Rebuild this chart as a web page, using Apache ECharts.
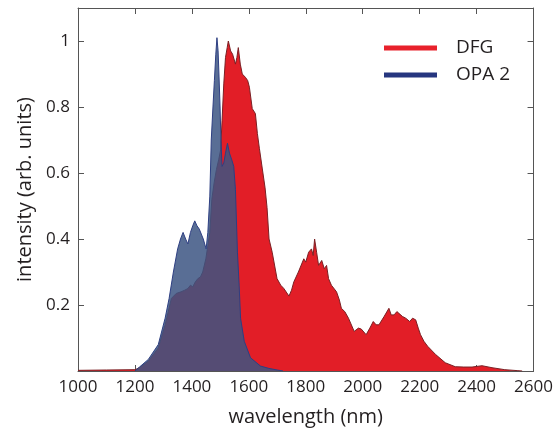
<!DOCTYPE html>
<html>
<head>
<meta charset="utf-8">
<script src="https://cdn.jsdelivr.net/npm/echarts@6/dist/echarts.min.js"></script>
<style>
  html, body { margin: 0; padding: 0; background: #fff; }
  #chart { width: 556px; height: 435px; }
</style>
</head>
<body>
<div id="chart"></div>
<script>
// DFG spectrum (nm / arb. units)
const dfgWl = [1000, 1100, 1200, 1216, 1247, 1282, 1306, 1328, 1345, 1362, 1375, 1386, 1395, 1403, 1412, 1421, 1430, 1438, 1449, 1456,
  1463, 1470, 1478, 1486, 1494, 1501, 1506, 1512, 1518, 1524, 1528, 1536, 1543, 1553, 1558, 1563, 1570, 1577, 1588, 1596,
  1602, 1612, 1623, 1630, 1637, 1647, 1657, 1664, 1671, 1682, 1699, 1712, 1723, 1741, 1750, 1758, 1774, 1793, 1800, 1810,
  1820, 1826, 1831, 1838, 1845, 1856, 1865, 1873, 1880, 1890, 1908, 1918, 1925, 1937, 1950, 1970, 1985, 1995, 2012, 2025,
  2037, 2047, 2057, 2075, 2092, 2100, 2110, 2120, 2127, 2140, 2151, 2165, 2175, 2186, 2195, 2203, 2215, 2228, 2256, 2290,
  2325, 2355, 2384, 2419, 2454, 2499, 2545, 2560]
const dfgVal = [0.002, 0.003, 0.004, 0.01, 0.03, 0.07, 0.14, 0.22, 0.235, 0.24, 0.245, 0.25, 0.26, 0.255, 0.27, 0.28, 0.285, 0.30, 0.34, 0.38,
  0.42, 0.52, 0.57, 0.61, 0.64, 0.67, 0.76, 0.87, 0.95, 0.98, 1.0, 0.97, 0.96, 0.93, 0.95, 0.98, 0.93, 0.9, 0.89, 0.88,
  0.86, 0.795, 0.78, 0.72, 0.675, 0.615, 0.555, 0.495, 0.40, 0.36, 0.28, 0.26, 0.25, 0.227, 0.245, 0.27, 0.30, 0.34, 0.33, 0.36,
  0.37, 0.35, 0.40, 0.36, 0.32, 0.335, 0.31, 0.32, 0.28, 0.26, 0.24, 0.215, 0.19, 0.18, 0.16, 0.12, 0.13, 0.127, 0.11, 0.13,
  0.15, 0.14, 0.14, 0.165, 0.19, 0.17, 0.17, 0.18, 0.18, 0.165, 0.16, 0.15, 0.16, 0.155, 0.13, 0.11, 0.09, 0.075, 0.05, 0.025,
  0.013, 0.012, 0.012, 0.016, 0.01, 0.004, 0.001, 0]

// OPA 2 spectrum
const opaWl = [1200, 1216, 1247, 1282, 1306, 1320, 1335, 1350, 1360, 1369, 1378, 1386, 1395, 1403, 1410, 1418, 1426, 1433, 1440, 1445,
  1450, 1456, 1463, 1468, 1474, 1479, 1484, 1488, 1492, 1495, 1499, 1502, 1506, 1512, 1518, 1525, 1532, 1540, 1547, 1553,
  1560, 1566, 1571, 1584, 1606, 1641, 1670, 1700, 1720]
const opaVal = [0, 0.012, 0.035, 0.08, 0.16, 0.22, 0.30, 0.37, 0.40, 0.42, 0.40, 0.385, 0.42, 0.44, 0.455, 0.44, 0.43, 0.415, 0.40, 0.385,
  0.37, 0.42, 0.53, 0.70, 0.80, 0.88, 0.96, 1.01, 0.97, 0.90, 0.80, 0.70, 0.62, 0.63, 0.66, 0.69, 0.66, 0.64, 0.62, 0.55,
  0.36, 0.26, 0.16, 0.09, 0.04, 0.015, 0.008, 0.003, 0]

const xTicks = { min: 1000, max: 2600, step: 200 }
const yTicks = { min: 0, max: 1.1, step: 0.2 }

const font = '"Open Sans", "Noto Sans", sans-serif'
const txt = '#231f20'
const frame = '#555'

function pairs(xs, ys) {
  return xs.map((x, i) => [x, ys[i]])
}

const axisBase = {
  axisLine: { show: true, onZero: false, lineStyle: { color: frame, width: 1 } },
  axisTick: { show: true, inside: true, length: 6, lineStyle: { color: frame } },
  splitLine: { show: false },
}

const chart = echarts.init(document.getElementById('chart'), null, { renderer: 'canvas' })
chart.setOption({
  animation: false,
  backgroundColor: '#fff',
  grid: { left: 78, right: 17, top: 8, bottom: 64, containLabel: false },
  legend: {
    orient: 'vertical',
    left: 384,
    top: 37,
    padding: 0,
    icon: 'rect',
    itemWidth: 53,
    itemHeight: 5,
    itemGap: 5,
    textStyle: { fontFamily: font, fontSize: 19, color: txt, lineHeight: 22, padding: [0, 0, 0, 14] },
    data: [
      { name: 'DFG', itemStyle: { color: '#e8212b' } },
      { name: 'OPA 2', itemStyle: { color: '#26367f' } }
    ]
  },
  xAxis: [
    Object.assign({}, axisBase, {
      type: 'value', position: 'bottom',
      min: xTicks.min, max: xTicks.max, interval: xTicks.step,
      name: 'wavelength (nm)', nameLocation: 'middle', nameGap: 36,
      nameTextStyle: { fontFamily: font, fontSize: 20, color: txt },
      axisLabel: { fontFamily: font, fontSize: 17, color: txt, margin: 8, formatter: v => String(v) }
    }),
    Object.assign({}, axisBase, {
      type: 'value', position: 'top',
      min: xTicks.min, max: xTicks.max, interval: xTicks.step,
      axisLabel: { show: false }
    })
  ],
  yAxis: [
    Object.assign({}, axisBase, {
      type: 'value', position: 'left',
      min: yTicks.min, max: yTicks.max, interval: yTicks.step,
      name: 'intensity (arb. units)', nameLocation: 'middle', nameGap: 40, nameRotate: 90,
      nameTextStyle: { fontFamily: font, fontSize: 20, color: txt },
      axisLabel: {
        fontFamily: font, fontSize: 17, color: txt, margin: 8,
        formatter: v => (v === 0 || v > 1.05) ? '' : String(+v.toFixed(1))
      }
    }),
    Object.assign({}, axisBase, {
      type: 'value', position: 'right',
      min: yTicks.min, max: yTicks.max, interval: yTicks.step,
      axisLabel: { show: false }
    })
  ],
  series: [
    {
      name: 'DFG',
      type: 'line',
      data: pairs(dfgWl, dfgVal),
      showSymbol: false,
      symbol: 'none',
      lineStyle: { color: '#7a2024', width: 1 },
      itemStyle: { color: '#e8212b' },
      areaStyle: { color: '#e21e27', opacity: 1 },
      z: 2
    },
    {
      name: 'OPA 2',
      type: 'line',
      data: pairs(opaWl, opaVal),
      showSymbol: false,
      symbol: 'none',
      lineStyle: { color: '#2e3f82', width: 1 },
      itemStyle: { color: '#26367f' },
      areaStyle: { color: '#3c5582', opacity: 0.85 },
      z: 3
    }
  ]
})
</script>
</body>
</html>
